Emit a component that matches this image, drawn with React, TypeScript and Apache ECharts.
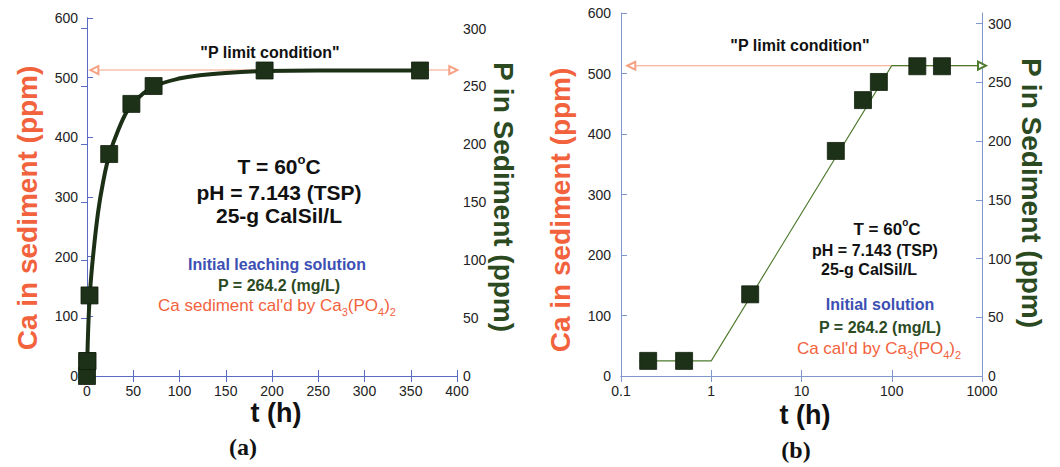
import React, { useEffect, useRef } from "react";
import * as echarts from "echarts";

// Sediment sampling times (h) and measured Ca in sediment (ppm)
const T_HOURS = [0, 0.2, 0.5, 2.7, 24, 48, 72, 192, 360];
const CA_PPM = [0, 25, 25, 135, 372, 456, 486, 512, 512];

// Fitted uptake curve for panel (a), linear time axis
const FIT_T = [0, 1, 3, 6.5, 12, 17.4, 24, 33.7, 46.4, 59, 73, 101, 122, 150, 192, 250, 300, 360];
const FIT_CA = [0, 65, 135, 200, 275, 325, 370, 412, 452, 471, 486, 499, 504, 508, 511, 512, 512, 512];

// Piecewise trend for panel (b), log time axis
const TREND_T = [0.16, 1, 100, 1000];
const TREND_CA = [25, 25, 513, 513];

// Initial P in leaching solution (mg/L) -> P limit line
const P_LIMIT = 264.2;
const LIMIT_T_A = [8, 396];
const LIMIT_T_B = [0.13, 1000];

// Axis ranges
const CA_RANGE = [0, 600];
const CA_STEP = 100;
const P_STEP = 50;
const T_RANGE_A = [0, 400];
const T_STEP_A = 50;
const T_RANGE_B = [0.1, 1000];

// Ca3(PO4)2 mass ratio Ca/P, links the two y scales
const CA_PER_P = (3 * 40.08) / (2 * 30.974);
const P_MAX = CA_RANGE[1] / CA_PER_P;

const SANS = "'Liberation Sans', Arial, Helvetica, sans-serif";
const SERIF = "'Liberation Serif', 'Times New Roman', serif";
const ORANGE = "#f2623c";
const GREEN = "#2b4a1f";
const BLUE = "#3c4fb3";
const MARK = "#1d3118";
const LIMIT_ORANGE = "#f6a184";

function makeAxes(gridIndex: number, axisColor: string, log: boolean) {
  const line = { lineStyle: { color: axisColor, width: 1 } };
  const tick = { inside: true, length: 6, lineStyle: { color: axisColor } };
  const label = { fontSize: 14, color: "#222", fontFamily: SANS };
  const xBase: any = log
    ? { type: "log", logBase: 10, min: T_RANGE_B[0], max: T_RANGE_B[1] }
    : { type: "value", min: T_RANGE_A[0], max: T_RANGE_A[1], interval: T_STEP_A };
  const xAxes = [
    { ...xBase, gridIndex, position: "bottom", axisLine: line, axisTick: tick, axisLabel: { ...label, margin: 8, formatter: (v: number) => String(v) }, splitLine: { show: false } },
    { ...xBase, gridIndex, position: "top", axisLine: line, axisTick: tick, axisLabel: { show: false }, splitLine: { show: false } },
  ];
  const yAxes = [
    { type: "value", gridIndex, position: "left", min: CA_RANGE[0], max: CA_RANGE[1], interval: CA_STEP, axisLine: { show: true, ...line }, axisTick: tick, axisLabel: { ...label, margin: log ? 10 : 9 }, splitLine: { show: false } },
    { type: "value", gridIndex, position: "right", min: 0, max: P_MAX, interval: P_STEP, axisLine: { show: true, ...line }, axisTick: tick, axisLabel: { ...label, margin: 6, showMaxLabel: false }, splitLine: { show: false } },
  ];
  return { xAxes, yAxes };
}

function limitSeries(xi: number, yi: number, span: number[], bothEnds: boolean) {
  const tri = { symbol: "emptyTriangle", symbolSize: 8 };
  return {
    type: "line",
    xAxisIndex: xi,
    yAxisIndex: yi,
    z: 1,
    showSymbol: true,
    symbol: "none",
    lineStyle: { color: LIMIT_ORANGE, width: 1.2 },
    itemStyle: { color: LIMIT_ORANGE, borderColor: LIMIT_ORANGE },
    data: [
      { value: [span[0], P_LIMIT], ...tri, symbolRotate: 90 },
      bothEnds ? { value: [span[1], P_LIMIT], ...tri, symbolRotate: -90 } : { value: [span[1], P_LIMIT] },
    ],
  };
}

function txt(x: number, y: number, text: string, size: number, color: string, opts: any = {}) {
  return {
    type: "text",
    x,
    y,
    rotation: opts.rotation || 0,
    z: 10,
    style: {
      text,
      fill: color,
      fontSize: size,
      fontWeight: opts.weight || "bold",
      fontFamily: opts.family || SANS,
      align: "center",
      verticalAlign: "middle",
      rich: opts.rich,
    },
  };
}

function calcText(x: number, y: number, prefix: string, size: number) {
  const base = { fontSize: size, fontFamily: SANS, fill: ORANGE, lineHeight: size + 8, verticalAlign: "middle" };
  const sub = { fontSize: Math.round(size * 0.62), fontFamily: SANS, fill: ORANGE, lineHeight: size + 8, verticalAlign: "bottom" };
  return txt(x, y, `{m|${prefix}Ca}{s|3}{m|(PO}{s|4}{m|)}{s|2}`, size, ORANGE, {
    weight: "normal",
    rich: { m: base, s: sub },
  });
}

function tempText(x: number, y: number, size: number) {
  const base = { fontSize: size, fontFamily: SANS, fontWeight: "bold", fill: "#111", lineHeight: size + 6, verticalAlign: "middle" };
  const sup = { fontSize: Math.round(size * 0.6), fontFamily: SANS, fontWeight: "bold", fill: "#111", lineHeight: size + 6, verticalAlign: "top" };
  return txt(x, y, "{m|T = 60}{s|o}{m|C}", size, "#111", { rich: { m: base, s: sup } });
}

export default function App() {
  const ref = useRef<HTMLDivElement>(null);

  useEffect(() => {
    if (!ref.current) return;
    const chart = echarts.init(ref.current, undefined, { renderer: "svg" });

    const a = makeAxes(0, "#5a6bc2", false);
    const b = makeAxes(1, "#7f97cc", true);

    const points = T_HOURS.map((t, i) => [t, CA_PPM[i]]);
    const fit = FIT_T.map((t, i) => [t, FIT_CA[i]]);
    const trend = TREND_T.map((t, i) => {
      const last = i === TREND_T.length - 1;
      return last
        ? { value: [t, TREND_CA[i]], symbol: "emptyTriangle", symbolSize: 8, symbolRotate: -90 }
        : { value: [t, TREND_CA[i]] };
    });

    const squares = (xi: number, yi: number, data: number[][]) => ({
      type: "scatter",
      xAxisIndex: xi,
      yAxisIndex: yi,
      symbol: "rect",
      symbolSize: 17,
      z: 5,
      itemStyle: { color: MARK, opacity: 1, borderColor: "#12200e", borderWidth: 0.8 },
      data,
    });

    chart.setOption({
      animation: false,
      backgroundColor: "#ffffff",
      grid: [
        { left: 87, top: 18, width: 370, height: 358 },
        { left: 621, top: 13, width: 361, height: 363 },
      ],
      xAxis: [...a.xAxes, ...b.xAxes],
      yAxis: [...a.yAxes, ...b.yAxes],
      series: [
        limitSeries(0, 1, LIMIT_T_A, true),
        {
          type: "line",
          xAxisIndex: 0,
          yAxisIndex: 0,
          showSymbol: false,
          smooth: 0.4,
          z: 3,
          lineStyle: { color: "#1c3016", width: 4 },
          data: fit,
        },
        squares(0, 0, points),
        limitSeries(2, 3, LIMIT_T_B, false),
        {
          type: "line",
          xAxisIndex: 2,
          yAxisIndex: 2,
          showSymbol: true,
          symbol: "none",
          z: 3,
          lineStyle: { color: "#4d7a2e", width: 1.1 },
          itemStyle: { color: "#4d7a2e", borderColor: "#4d7a2e" },
          data: trend,
        },
        squares(2, 2, points.filter((p) => p[0] > 0)),
      ],
      graphic: [
        // panel (a)
        txt(270, 52, '"P limit condition"', 16, "#111"),
        tempText(279, 166, 21),
        txt(279, 192, "pH = 7.143 (TSP)", 21, "#111"),
        txt(279, 215, "25-g CalSil/L", 21, "#111"),
        txt(277, 264, "Initial leaching solution", 16, BLUE),
        txt(279, 285, "P = 264.2 (mg/L)", 16, GREEN),
        calcText(277, 305, "Ca sediment cal'd by ", 17),
        txt(27, 208, "Ca in sediment (ppm)", 28, ORANGE, { rotation: Math.PI / 2 }),
        txt(503, 197, "P in Sediment (ppm)", 28, GREEN, { rotation: -Math.PI / 2 }),
        txt(276, 413, "t (h)", 27, "#111"),
        txt(243, 447, "(a)", 24, "#111", { family: SERIF }),
        // panel (b)
        txt(800, 45, '"P limit condition"', 16, "#111"),
        tempText(887, 229, 17),
        txt(875, 250, "pH = 7.143 (TSP)", 16, "#111"),
        txt(869, 269, "25-g CalSil/L", 16, "#111"),
        txt(880, 304, "Initial solution", 16, BLUE),
        txt(880, 327, "P = 264.2 (mg/L)", 16, GREEN),
        calcText(879, 348, "Ca cal'd by ", 17),
        txt(560, 210, "Ca in sediment (ppm)", 28, ORANGE, { rotation: Math.PI / 2 }),
        txt(1031, 193, "P in Sediment (ppm)", 28, GREEN, { rotation: -Math.PI / 2 }),
        txt(805, 415, "t (h)", 27, "#111"),
        txt(796, 450, "(b)", 24, "#111", { family: SERIF }),
      ],
    });

    return () => chart.dispose();
  }, []);

  return (
    <div
      ref={ref}
      style={{ position: "fixed", left: 0, top: 0, width: 1060, height: 467, background: "#fff" }}
    />
  );
}
